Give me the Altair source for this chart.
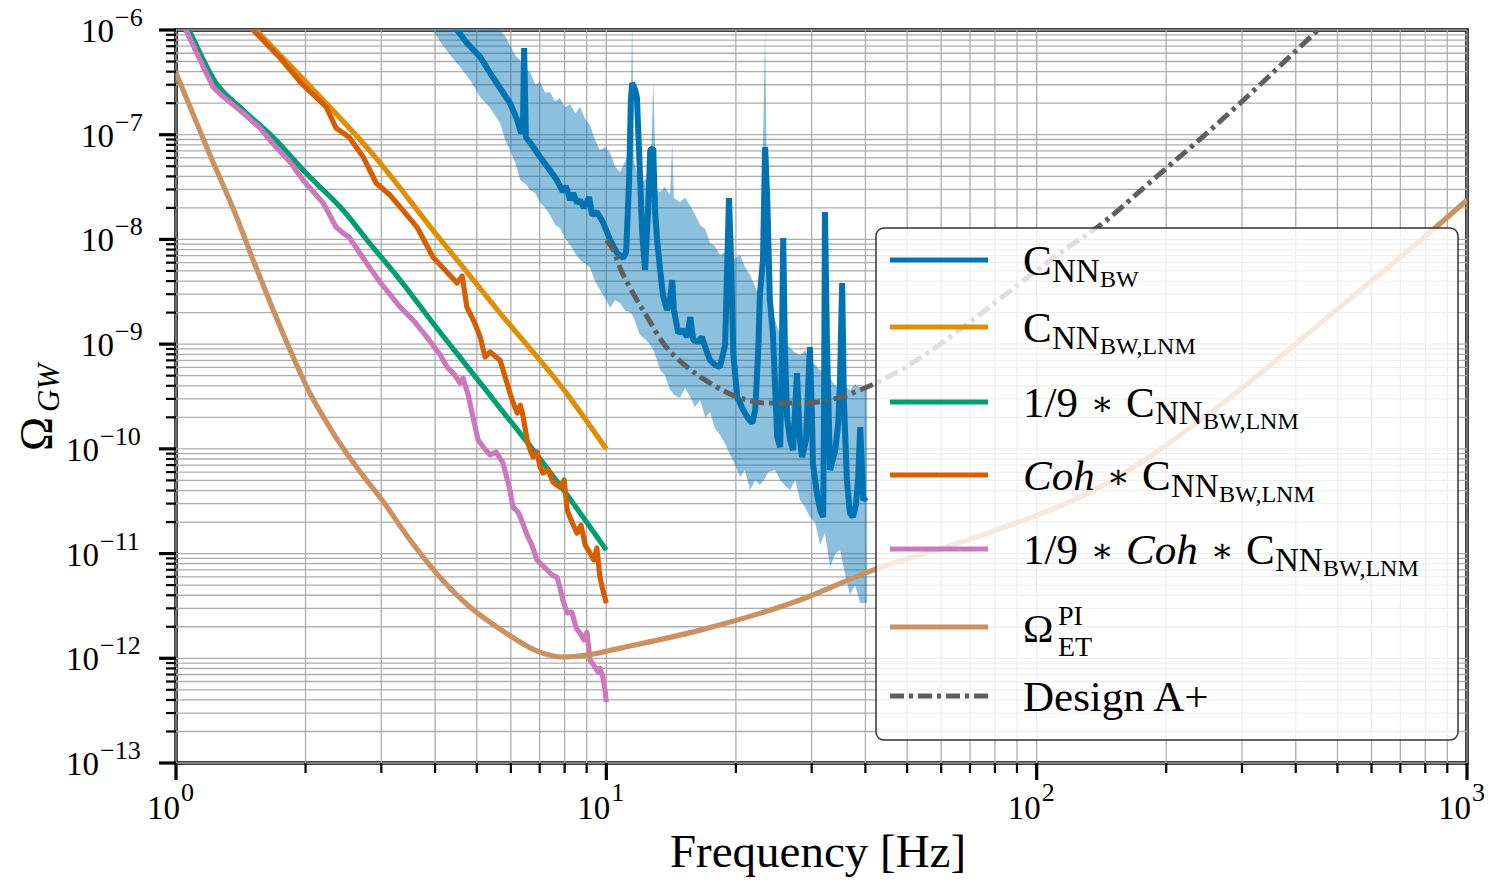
import altair as alt
import numpy as np
import pandas as pd

# ---------------------------------------------------------------------------
# Values, as (log10 f [Hz], log10 Omega_GW)
# ---------------------------------------------------------------------------
C_NN_BW = [
    (0.632, -5.885), (0.653, -6.0), (0.676, -6.124), (0.707, -6.258), (0.730, -6.411),
    (0.753, -6.554), (0.776, -6.697), (0.793, -6.860), (0.802, -6.984), (0.806, -6.955),
    (0.809, -6.172), (0.813, -7.022), (0.827, -7.098), (0.846, -7.213), (0.865, -7.318),
    (0.885, -7.433), (0.899, -7.547), (0.906, -7.490), (0.916, -7.624), (0.923, -7.557),
    (0.932, -7.652), (0.939, -7.624), (0.948, -7.700), (0.960, -7.595), (0.967, -7.767),
    (0.978, -7.738), (0.992, -7.834), (1.009, -8.006), (1.025, -8.130), (1.039, -8.178),
    (1.046, -8.120), (1.053, -7.433), (1.057, -6.669), (1.060, -6.506), (1.067, -6.573),
    (1.071, -6.640), (1.076, -7.146), (1.083, -7.910), (1.090, -8.292), (1.097, -7.719),
    (1.102, -7.146), (1.109, -7.127), (1.113, -7.719), (1.118, -8.006), (1.125, -8.292),
    (1.132, -8.541), (1.141, -8.674), (1.148, -8.579), (1.153, -8.388), (1.157, -8.674),
    (1.167, -8.894), (1.178, -8.865), (1.188, -8.932), (1.195, -8.741), (1.202, -8.961),
    (1.213, -8.980), (1.222, -8.932), (1.232, -9.056), (1.241, -9.152), (1.253, -9.200),
    (1.264, -9.219), (1.276, -9.009), (1.285, -7.605), (1.290, -8.197), (1.295, -9.085),
    (1.304, -9.505), (1.318, -9.629), (1.329, -9.706), (1.339, -9.754), (1.346, -9.629),
    (1.353, -9.056), (1.357, -8.512), (1.364, -8.197), (1.369, -7.117), (1.374, -7.624),
    (1.380, -8.579), (1.387, -8.894), (1.397, -9.887), (1.404, -9.983), (1.408, -9.056),
    (1.411, -7.987), (1.415, -9.056), (1.420, -9.696), (1.427, -9.916), (1.434, -10.011),
    (1.443, -9.276), (1.450, -9.916), (1.455, -10.078), (1.464, -9.916), (1.473, -9.028),
    (1.478, -9.725), (1.480, -10.136), (1.490, -10.441), (1.497, -10.584), (1.504, -10.651),
    (1.506, -9.534), (1.508, -7.738), (1.513, -9.056), (1.520, -10.202), (1.532, -10.011),
    (1.539, -9.754), (1.543, -9.343), (1.548, -8.416), (1.552, -9.534), (1.559, -10.298),
    (1.566, -10.613), (1.573, -10.651), (1.580, -10.537), (1.585, -10.298), (1.590, -9.792),
    (1.594, -10.202), (1.597, -10.489), (1.604, -10.460),
]

# spread of C_NN_BW: (log10 f, log10 lower, log10 upper)
C_NN_BW_BAND = [
    (0.590, -5.952, -5.857), (0.614, -6.115, -5.809), (0.637, -6.239, -5.809),
    (0.660, -6.353, -5.809), (0.683, -6.478, -5.809), (0.707, -6.640, -5.828),
    (0.730, -6.745, -5.885), (0.753, -6.888, -6.0), (0.765, -7.050, -6.060),
    (0.776, -7.146, -6.143), (0.788, -7.260, -6.240), (0.800, -7.433, -6.287),
    (0.812, -7.470, -6.380), (0.823, -7.528, -6.401), (0.835, -7.560, -6.520),
    (0.846, -7.652, -6.497), (0.858, -7.700, -6.600), (0.869, -7.767, -6.592),
    (0.881, -7.860, -6.680), (0.892, -7.891, -6.649), (0.904, -7.990, -6.740),
    (0.916, -8.053, -6.707), (0.928, -8.140, -6.800), (0.939, -8.197, -6.735),
    (0.951, -8.230, -6.850), (0.962, -8.273, -6.907), (0.974, -8.400, -7.050),
    (0.985, -8.483, -7.146), (0.997, -8.560, -7.120), (1.009, -8.655, -7.175),
    (1.020, -8.580, -7.300), (1.032, -8.607, -7.356), (1.044, -8.680, -7.250),
    (1.055, -8.693, -7.146), (1.060, -8.722, -5.904), (1.064, -8.751, -7.242),
    (1.078, -8.913, -7.480), (1.090, -8.950, -7.420), (1.102, -9.009, -7.509),
    (1.109, -9.056, -6.478), (1.116, -9.133, -7.528), (1.125, -9.247, -7.547),
    (1.136, -9.300, -7.500), (1.148, -9.438, -7.576), (1.153, -9.457, -7.079),
    (1.157, -9.486, -7.605), (1.171, -9.515, -7.643), (1.183, -9.420, -7.600),
    (1.195, -9.505, -7.681), (1.206, -9.600, -7.760), (1.218, -9.534, -7.862),
    (1.230, -9.700, -7.900), (1.241, -9.648, -8.034), (1.252, -9.800, -8.060),
    (1.264, -9.868, -8.149), (1.276, -9.950, -8.120), (1.288, -10.059, -8.216),
    (1.299, -10.150, -8.180), (1.311, -10.269, -8.149), (1.322, -10.200, -8.260),
    (1.334, -10.393, -8.340), (1.346, -10.300, -8.450), (1.357, -10.346, -8.579),
    (1.369, -10.279, -6.0), (1.376, -10.222, -8.579), (1.392, -10.202, -8.770),
    (1.404, -10.298, -8.913), (1.415, -10.350, -8.980), (1.427, -10.393, -9.037),
    (1.439, -10.300, -9.080), (1.450, -10.489, -9.104), (1.462, -10.560, -9.060),
    (1.473, -10.651, -9.152), (1.485, -10.700, -9.200), (1.497, -10.919, -9.247),
    (1.508, -10.800, -9.280), (1.520, -11.129, -9.324), (1.532, -11.000, -9.400),
    (1.543, -10.966, -9.438), (1.555, -11.200, -9.400), (1.566, -11.396, -9.438),
    (1.578, -11.300, -9.380), (1.590, -11.473, -9.419), (1.606, -11.473, -9.410),
]

C_NN_BW_LNM = [
    (0.116, -5.694), (0.186, -6.0), (0.302, -6.497), (0.465, -7.223),
    (0.597, -7.910), (0.753, -8.703), (0.909, -9.477), (1.0, -10.002),
]

NINTH_C_NN_BW_LNM = [
    (0.0, -5.761), (0.030, -6.0), (0.093, -6.506), (0.156, -6.764), (0.232, -7.051),
    (0.302, -7.366), (0.388, -7.719), (0.444, -8.006), (0.521, -8.388), (0.597, -8.798),
    (0.676, -9.209), (0.753, -9.610), (0.830, -10.011), (0.909, -10.441), (1.0, -10.967),
]

COH_C_NN_BW_LNM = [
    (0.149, -5.866), (0.179, -6.0), (0.242, -6.267), (0.295, -6.525), (0.349, -6.735),
    (0.372, -6.936), (0.402, -7.022), (0.435, -7.213), (0.465, -7.461), (0.497, -7.576),
    (0.521, -7.691), (0.560, -7.882), (0.597, -8.168), (0.625, -8.292), (0.653, -8.416),
    (0.665, -8.350), (0.676, -8.646), (0.693, -8.789), (0.707, -8.932), (0.718, -9.123),
    (0.730, -9.075), (0.741, -9.114), (0.753, -9.152), (0.769, -9.372), (0.781, -9.534),
    (0.793, -9.658), (0.800, -9.582), (0.806, -9.677), (0.816, -9.916), (0.823, -10.011),
    (0.830, -10.078), (0.839, -10.030), (0.846, -10.174), (0.853, -10.231), (0.865, -10.202),
    (0.876, -10.317), (0.892, -10.365), (0.902, -10.298), (0.909, -10.585), (0.920, -10.699),
    (0.932, -10.804), (0.941, -10.728), (0.951, -10.919), (0.962, -10.995), (0.971, -11.062),
    (0.978, -10.947), (0.985, -11.224), (0.992, -11.349), (1.0, -11.473),
]

NINTH_COH_C_NN_BW_LNM = [
    (0.0, -5.799), (0.023, -6.0), (0.056, -6.287), (0.086, -6.544), (0.105, -6.621),
    (0.156, -6.793), (0.195, -6.936), (0.232, -7.117), (0.265, -7.261), (0.295, -7.433),
    (0.342, -7.652), (0.372, -7.882), (0.388, -7.939), (0.402, -7.977), (0.449, -8.264),
    (0.474, -8.407), (0.521, -8.646), (0.555, -8.789), (0.583, -8.933), (0.614, -9.104),
    (0.630, -9.219), (0.648, -9.295), (0.660, -9.372), (0.667, -9.324), (0.679, -9.486),
    (0.690, -9.696), (0.702, -9.916), (0.714, -9.983), (0.730, -10.059), (0.744, -10.031),
    (0.760, -10.136), (0.776, -10.393), (0.783, -10.556), (0.795, -10.604), (0.800, -10.651),
    (0.816, -10.823), (0.827, -10.919), (0.839, -11.062), (0.858, -11.138), (0.874, -11.205),
    (0.885, -11.224), (0.892, -11.320), (0.899, -11.444), (0.909, -11.568), (0.920, -11.559),
    (0.930, -11.712), (0.939, -11.759), (0.948, -11.826), (0.955, -11.750), (0.962, -12.017),
    (0.971, -12.065), (0.981, -12.132), (0.985, -12.094), (0.992, -12.180), (0.997, -12.304),
    (1.0, -12.418),
]

OMEGA_ET_PI = [
    (0.0, -6.411), (0.077, -7.175), (0.139, -7.767), (0.181, -8.216), (0.223, -8.646),
    (0.265, -9.056), (0.311, -9.467), (0.358, -9.801), (0.416, -10.155), (0.479, -10.489),
    (0.544, -10.871), (0.607, -11.196), (0.683, -11.511), (0.760, -11.740), (0.839, -11.931),
    (0.899, -11.988), (0.955, -11.969), (1.032, -11.903), (1.218, -11.731), (1.450, -11.444),
    (1.613, -11.167), (1.880, -10.814), (2.147, -10.365), (2.415, -9.620), (2.682, -8.722),
    (2.947, -7.815), (3.0, -7.624),
]

DESIGN_A_PLUS = [
    (1.0, -8.006), (1.016, -8.101), (1.032, -8.273), (1.062, -8.512), (1.095, -8.741),
    (1.132, -8.989), (1.188, -9.219), (1.241, -9.372), (1.304, -9.505), (1.380, -9.563),
    (1.457, -9.563), (1.536, -9.515), (1.606, -9.410), (1.729, -9.133), (1.845, -8.789),
    (1.962, -8.416), (2.054, -8.130), (2.154, -7.843), (2.264, -7.452), (2.380, -7.041),
    (2.496, -6.611), (2.612, -6.162), (2.659, -5.981),
]

X_MAJOR = [1, 10, 100, 1000]
X_EXP = ["0", "1", "2", "3"]
Y_MAJOR = [1e-6, 1e-7, 1e-8, 1e-9, 1e-10, 1e-11, 1e-12, 1e-13]
Y_EXP = ["\u22126", "\u22127", "\u22128", "\u22129", "\u221210", "\u221211", "\u221212", "\u221213"]

X_MINOR = [m * 10 ** e for e in range(0, 3) for m in range(2, 10)]
Y_MINOR = [m * 10.0 ** e for e in range(-13, -6) for m in range(2, 10)]

SERIF = "Liberation Serif, DejaVu Serif, serif"
BLUE, ORANGE, GREEN, RED, PINK, TAN, GRAY = (
    "#0173b2", "#de8f05", "#029e73", "#d55e00", "#cc78bc", "#ca9161", "#5f5f5f")

W, H = 1291, 733

xscale = alt.Scale(type="log", domain=[1, 1000], nice=False)
yscale = alt.Scale(type="log", domain=[1e-13, 1e-6], nice=False)


def frame(points):
    a = np.array(points, dtype=float)
    return pd.DataFrame({"f": 10 ** a[:, 0], "omega": 10 ** a[:, 1], "i": np.arange(len(a))})


def X(field):
    return alt.X(field, scale=xscale, axis=None)


def Y(field):
    return alt.Y(field, scale=yscale, axis=None)


layers = []

# ---- grid (major + minor) ----
xg = pd.DataFrame({"v": X_MAJOR + X_MINOR})
yg = pd.DataFrame({"v": Y_MAJOR + Y_MINOR})
GRID = dict(color="#adadad", strokeWidth=1.3)
layers.append(alt.Chart(xg).mark_rule(**GRID).encode(x=X("v:Q"), y=alt.value(0), y2=alt.value(H)))
layers.append(alt.Chart(yg).mark_rule(**GRID).encode(y=Y("v:Q"), x=alt.value(0), x2=alt.value(W)))

# ---- data ----
band_arr = np.array(C_NN_BW_BAND, dtype=float)
band_df = pd.DataFrame({"f": 10 ** band_arr[:, 0], "lo": 10 ** band_arr[:, 1], "hi": 10 ** band_arr[:, 2]})
layers.append(alt.Chart(band_df).mark_area(color=BLUE, opacity=0.45, clip=True).encode(
    x=X("f:Q"), y=Y("lo:Q"), y2="hi:Q"))


def line(points, color, width=5.2, dash=None, interp="linear", join="round"):
    kw = dict(color=color, strokeWidth=width, clip=True, interpolate=interp, strokeJoin=join)
    if dash:
        kw["strokeDash"] = dash
    return alt.Chart(frame(points)).mark_line(**kw).encode(
        x=X("f:Q"), y=Y("omega:Q"), order="i:Q")


layers += [
    line(C_NN_BW, BLUE, width=6, join="bevel"),
    line(C_NN_BW_LNM, ORANGE, interp="monotone"),
    line(NINTH_C_NN_BW_LNM, GREEN, interp="monotone"),
    line(COH_C_NN_BW_LNM, RED),
    line(NINTH_COH_C_NN_BW_LNM, PINK),
    line(OMEGA_ET_PI, TAN, interp="monotone"),
    line(DESIGN_A_PLUS, GRAY, width=5, dash=[14, 5, 4, 5], interp="monotone"),
]

# ---- ticks (outside, major longer) ----
for vals, size, sw in ((X_MAJOR, 17, 3.2), (X_MINOR, 10, 2.2)):
    layers.append(alt.Chart(pd.DataFrame({"v": vals})).mark_rule(color="black", strokeWidth=sw).encode(
        x=X("v:Q"), y=alt.value(H), y2=alt.value(H + size)))
for vals, size, sw in ((Y_MAJOR, 17, 3.2), (Y_MINOR, 10, 2.2)):
    layers.append(alt.Chart(pd.DataFrame({"v": vals})).mark_rule(color="black", strokeWidth=sw).encode(
        y=Y("v:Q"), x=alt.value(0), x2=alt.value(-size)))

# ---- tick labels (10 with raised exponent) ----
xlab = pd.DataFrame({"v": X_MAJOR, "e": X_EXP})
layers.append(alt.Chart(xlab).mark_text(text="10", font=SERIF, fontSize=33, align="right",
                                        baseline="alphabetic", dx=4).encode(
    x=X("v:Q"), y=alt.value(789)))
layers.append(alt.Chart(xlab).mark_text(font=SERIF, fontSize=26, align="left",
                                        baseline="alphabetic", dx=5).encode(
    x=X("v:Q"), y=alt.value(771), text="e:N"))

ylab = pd.DataFrame({"v": Y_MAJOR, "e": Y_EXP, "nd": [len(e) - 1 for e in Y_EXP]})
for nd, xr in ((1, -62), (2, -77)):
    sub = alt.Chart(ylab).transform_filter(f"datum.nd == {nd}")
    layers.append(sub.mark_text(text="10", font=SERIF, fontSize=33, align="right",
                                baseline="alphabetic", dy=12).encode(y=Y("v:Q"), x=alt.value(xr)))
    layers.append(sub.mark_text(font=SERIF, fontSize=26, align="left",
                                baseline="alphabetic", dy=-4).encode(
        y=Y("v:Q"), x=alt.value(xr + 1), text="e:N"))

DUMMY = pd.DataFrame({"d": [0]})


def txt(s, x, y, size, italic=False, align="left", angle=0):
    kw = dict(text=s, font=SERIF, fontSize=size, align=align, baseline="alphabetic",
              color="black", fontStyle="italic" if italic else "normal")
    if angle:
        kw["angle"] = angle
    return alt.Chart(DUMMY).mark_text(**kw).encode(x=alt.value(x), y=alt.value(y))


# axis titles
layers.append(txt("Frequency [Hz]", 642, 837, 47, align="center"))
layers.append(txt("\u03a9", -124, 404, 46, align="center", angle=270))
layers.append(txt("GW", -117, 358, 31, italic=True, align="center", angle=270))

# ---- legend ----
layers.append(alt.Chart(DUMMY).mark_rect(fill="white", fillOpacity=0.8, stroke="#333333",
                                         strokeWidth=1.5, cornerRadius=8).encode(
    x=alt.value(700), x2=alt.value(1282), y=alt.value(198), y2=alt.value(710)))

entries = [(BLUE, None, 230), (ORANGE, None, 297), (GREEN, None, 372), (RED, None, 445),
           (PINK, None, 519), (TAN, None, 597), (GRAY, [14, 5, 4, 5], 666)]
for color, dash, ly in entries:
    kw = dict(color=color, strokeWidth=5)
    if dash:
        kw["strokeDash"] = dash
    layers.append(alt.Chart(DUMMY).mark_rule(**kw).encode(
        x=alt.value(714), x2=alt.value(812), y=alt.value(ly)))

M, S, SS, A = 43, 33, 24, 34
AST = "\u2217"
# entry 1
layers += [txt("C", 847, 245, M), txt("NN", 876, 252, S), txt("BW", 924, 257, SS)]
# entry 2
layers += [txt("C", 847, 312, M), txt("NN", 876, 319, S), txt("BW,LNM", 924, 324, SS)]
# entry 3
layers += [txt("1/9", 847, 387, M), txt(AST, 926, 385, A, align="center"), txt("C", 950, 387, M),
           txt("NN", 979, 394, S), txt("BW,LNM", 1027, 399, SS)]
# entry 4
layers += [txt("Coh", 847, 460, M, italic=True), txt(AST, 942, 458, A, align="center"),
           txt("C", 966, 460, M), txt("NN", 995, 467, S), txt("BW,LNM", 1043, 472, SS)]
# entry 5
layers += [txt("1/9", 847, 534, M), txt(AST, 926, 532, A, align="center"),
           txt("Coh", 950, 534, M, italic=True), txt(AST, 1046, 532, A, align="center"),
           txt("C", 1070, 534, M), txt("NN", 1099, 541, S), txt("BW,LNM", 1147, 546, SS)]
# entry 6
layers += [txt("\u03a9", 847, 612, 41), txt("PI", 882, 595, 28), txt("ET", 882, 626, 28)]
# entry 7
layers += [txt("Design A+", 847, 681, M)]

chart = alt.layer(*layers).properties(
    width=W, height=H,
    autosize=alt.AutoSizeParams(type="none"),
    padding={"left": 176, "top": 30, "right": 21, "bottom": 117},
    background="white",
).configure_view(stroke="black", strokeWidth=3.5)

chart.save("out.html", embed_options={"renderer": "svg", "actions": False})
